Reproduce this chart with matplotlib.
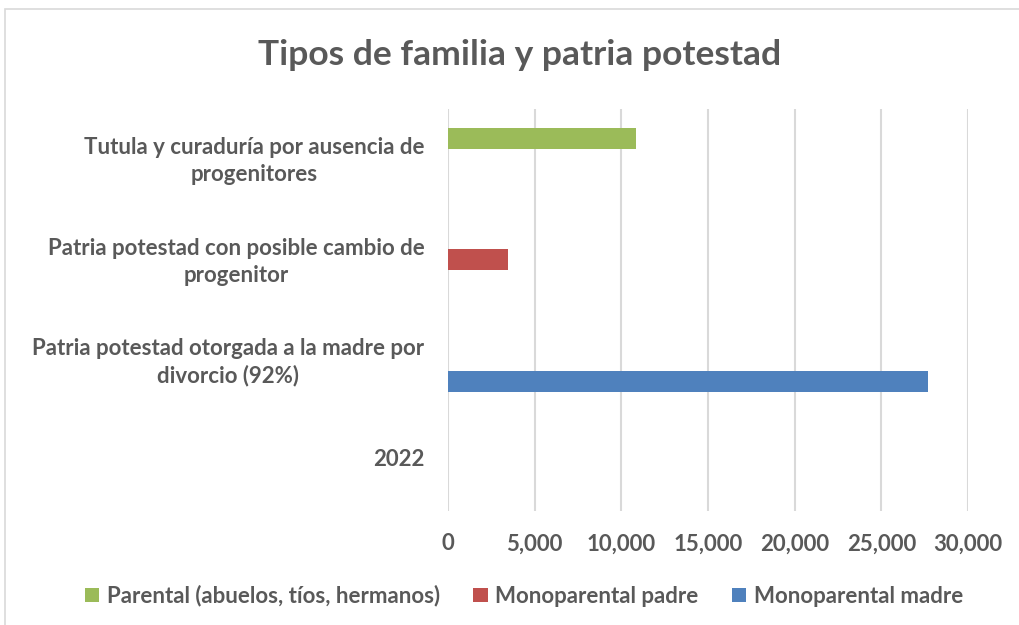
import numpy as np
import matplotlib.pyplot as plt
from matplotlib.patches import Rectangle

# categories from bottom to top, as Excel draws them
categories = ["2022",
              "Patria potestad otorgada a la madre por\ndivorcio (92%)",
              "Patria potestad con posible cambio de\nprogenitor",
              "Tutula y curaduría por ausencia de\nprogenitores"]

madre = [0, 27700, 0, 0]      # Monoparental madre
padre = [0, 0, 3450, 0]       # Monoparental padre
parental = [0, 0, 0, 10850]   # Parental (abuelos, tíos, hermanos)

series_names = ["Monoparental madre", "Monoparental padre",
                "Parental (abuelos, tíos, hermanos)"]
colors = ["#4F81BD", "#C0504D", "#9BBB59"]
xticks = [0, 5000, 10000, 15000, 20000, 25000, 30000]

text_col = "#595959"
plt.rcParams['font.family'] = ['Lato', 'DejaVu Sans']

fig = plt.figure(figsize=(10.19, 6.25), dpi=100)
W, H = 1019, 625
ax = fig.add_axes([448 / W, 1 - 511 / H, (968 - 448) / W, (511 - 109) / H])

# chart frame
fig.patches.append(Rectangle((5 / W, -0.1), 1.2, 1 - 9 / H + 0.1,
                             transform=fig.transFigure, fill=False,
                             edgecolor="#D9D9D9", linewidth=1.2))

y = np.arange(len(categories))
h = 0.21
offsets = [-h, 0, h]
handles = []
for vals, name, col, off in zip([madre, padre, parental], series_names, colors, offsets):
    vals = np.array(vals, dtype=float)
    mask = vals > 0
    b = ax.barh(y[mask] + off, vals[mask], height=h, color=col, label=name, zorder=3)
    handles.append(b)

ax.set_xlim(0, 30000)
ax.set_ylim(-0.5, 3.5)
ax.set_xticks(xticks)
ax.set_xticklabels([f"{v:,}" for v in xticks], fontsize=16, fontweight="bold")
ax.set_yticks(y + 0.03)
ax.set_yticklabels(categories, ha="right", multialignment="center", linespacing=1.35,
                   fontsize=16, fontweight="bold")
ax.grid(axis="x", color="#D9D9D9", linewidth=1.5, zorder=0)
for s in ax.spines.values():
    s.set_visible(False)
ax.tick_params(axis="both", length=0, colors=text_col)
ax.tick_params(axis="x", pad=16)
ax.tick_params(axis="y", pad=17)

fig.text(520 / W, 1 - 55 / H, "Tipos de familia y patria potestad", ha="center", va="center",
         fontsize=25.5, fontweight="bold", color=text_col)

leg = fig.legend(handles=handles[::-1], labels=series_names[::-1], loc="center",
                 bbox_to_anchor=(524 / W, 1 - 596 / H), ncol=3, frameon=False,
                 handlelength=0.65, handleheight=0.65, handletextpad=0.35, columnspacing=1.5,
                 prop={"size": 16, "weight": "bold"})
for t in leg.get_texts():
    t.set_color(text_col)

fig.savefig("out.png", dpi=100)
